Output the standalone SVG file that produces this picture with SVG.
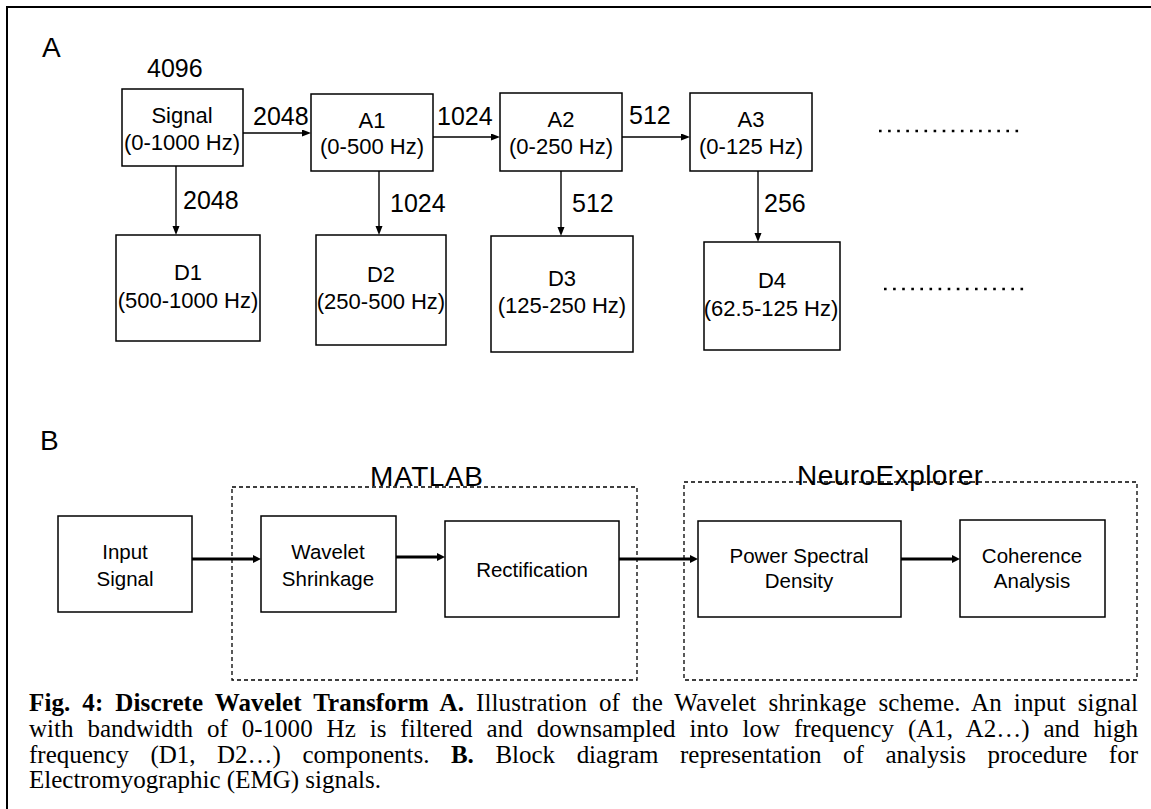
<svg xmlns="http://www.w3.org/2000/svg" width="1151" height="809" viewBox="0 0 1151 809">
<style>
  .box { fill: #fff; stroke: #000; stroke-width: 1.5; }
  .grp { fill: none; stroke: #000; stroke-width: 1.3; stroke-dasharray: 4 3; }
  .t { font-family: "Liberation Sans", Arial, sans-serif; fill: #000; }
  .ta { font-size: 22px; text-anchor: middle; }
  .tn { font-size: 25px; }
  .tb { font-size: 20.5px; text-anchor: middle; }
  .tg { font-size: 28px; }
  .cap { font-family: "Liberation Serif", "Times New Roman", serif; font-size: 25px; fill: #000; }
  .thin { stroke: #000; stroke-width: 1.4; fill: none; }
  .thick { stroke: #000; stroke-width: 3; fill: none; }
  .dots { stroke: #000; stroke-width: 2.6; stroke-dasharray: 2.6 6.5; fill: none; }
</style>
<defs>
  <marker id="ah" markerUnits="userSpaceOnUse" markerWidth="10" markerHeight="8" refX="0" refY="3.5" orient="auto">
    <path d="M0,0 L9,3.5 L0,7 z" fill="#000"/>
  </marker>
  <marker id="ahb" markerUnits="userSpaceOnUse" markerWidth="10" markerHeight="10" refX="0" refY="4" orient="auto">
    <path d="M0,0 L8,4 L0,8 z" fill="#000"/>
  </marker>
</defs>
<rect width="1151" height="809" fill="#fff"/>
<g id="frame">
  <line x1="6" y1="7" x2="1151" y2="7" stroke="#000" stroke-width="2"/>
  <line x1="7" y1="6" x2="7" y2="809" stroke="#000" stroke-width="2"/>
</g>
<text class="t" x="42" y="57" font-size="28">A</text>
<text class="t" x="40" y="450" font-size="28">B</text>
<text class="t tn" x="147" y="77">4096</text>

<g id="signal"><rect class="box" x="122" y="89" width="121" height="77"/>
  <text class="t ta" x="182" y="123">Signal</text><text class="t ta" x="182" y="150">(0-1000 Hz)</text></g>
<g id="a1"><rect class="box" x="311" y="94" width="122" height="77"/>
  <text class="t ta" x="372" y="128">A1</text><text class="t ta" x="372" y="154">(0-500 Hz)</text></g>
<g id="a2"><rect class="box" x="500" y="93" width="122" height="78"/>
  <text class="t ta" x="561" y="127">A2</text><text class="t ta" x="561" y="154">(0-250 Hz)</text></g>
<g id="a3"><rect class="box" x="690" y="93" width="122" height="78"/>
  <text class="t ta" x="751" y="127">A3</text><text class="t ta" x="751" y="154">(0-125 Hz)</text></g>
<g id="d1"><rect class="box" x="116" y="235" width="144" height="106"/>
  <text class="t ta" x="188" y="280">D1</text><text class="t ta" x="188" y="308">(500-1000 Hz)</text></g>
<g id="d2"><rect class="box" x="316" y="235" width="130" height="110"/>
  <text class="t ta" x="381" y="282">D2</text><text class="t ta" x="381" y="309">(250-500 Hz)</text></g>
<g id="d3"><rect class="box" x="491" y="236" width="142" height="116"/>
  <text class="t ta" x="562" y="286">D3</text><text class="t ta" x="562" y="313">(125-250 Hz)</text></g>
<g id="d4"><rect class="box" x="704" y="242" width="136" height="108"/>
  <text class="t ta" x="772" y="288">D4</text><text class="t ta" x="771" y="316">(62.5-125 Hz)</text></g>

<g id="more">
  <line class="dots" x1="879" y1="131" x2="1020" y2="131"/>
  <line class="dots" x1="884" y1="289" x2="1025" y2="289"/>
</g>

<g id="matlab"><rect class="grp" x="232" y="487" width="405" height="193"/>
  <text class="t tg" x="370" y="486" textLength="113">MATLAB</text></g>
<g id="neuroexplorer"><rect class="grp" x="684" y="482" width="453" height="198"/>
  <text class="t tg" x="797" y="485" textLength="186">NeuroExplorer</text></g>

<g id="input"><rect class="box" x="58" y="516" width="134" height="96"/>
  <text class="t tb" x="125" y="559">Input</text><text class="t tb" x="125" y="586">Signal</text></g>
<g id="wavelet"><rect class="box" x="261" y="516" width="135" height="96"/>
  <text class="t tb" x="328" y="559">Wavelet</text><text class="t tb" x="328" y="586">Shrinkage</text></g>
<g id="rect"><rect class="box" x="445" y="521" width="174" height="96"/>
  <text class="t tb" x="532" y="577">Rectification</text></g>
<g id="psd"><rect class="box" x="698" y="521" width="203" height="96"/>
  <text class="t tb" x="799" y="563">Power Spectral</text><text class="t tb" x="799" y="588">Density</text></g>
<g id="coh"><rect class="box" x="960" y="520" width="145" height="97"/>
  <text class="t tb" x="1032" y="563">Coherence</text><text class="t tb" x="1032" y="588">Analysis</text></g>

<g id="connectors">
  <line class="thin" x1="243" y1="133" x2="302" y2="133" marker-end="url(#ah)"/>
  <line class="thin" x1="433" y1="137" x2="491" y2="137" marker-end="url(#ah)"/>
  <line class="thin" x1="622" y1="137" x2="681" y2="137" marker-end="url(#ah)"/>
  <line class="thin" x1="176" y1="166" x2="176" y2="226" marker-end="url(#ah)"/>
  <line class="thin" x1="379" y1="171" x2="379" y2="226" marker-end="url(#ah)"/>
  <line class="thin" x1="561" y1="171" x2="561" y2="227" marker-end="url(#ah)"/>
  <line class="thin" x1="758" y1="171" x2="758" y2="233" marker-end="url(#ah)"/>
  <line class="thick" x1="192" y1="559" x2="253" y2="559" marker-end="url(#ahb)"/>
  <line class="thick" x1="396" y1="557" x2="437" y2="557" marker-end="url(#ahb)"/>
  <line class="thick" x1="619" y1="559" x2="690" y2="559" marker-end="url(#ahb)"/>
  <line class="thick" x1="901" y1="559" x2="952" y2="559" marker-end="url(#ahb)"/>
  <text class="t tn" x="253" y="125">2048</text>
  <text class="t tn" x="437" y="125">1024</text>
  <text class="t tn" x="629" y="124">512</text>
  <text class="t tn" x="183" y="209">2048</text>
  <text class="t tn" x="390" y="212">1024</text>
  <text class="t tn" x="572" y="212">512</text>
  <text class="t tn" x="764" y="212">256</text>
</g>

<g id="caption">
  <text class="cap" x="29" y="711" word-spacing="5.6" textLength="1109" lengthAdjust="spacing"><tspan font-weight="bold">Fig. 4: Discrete Wavelet Transform A.</tspan> Illustration of the Wavelet shrinkage scheme. An input signal</text>
  <text class="cap" x="29" y="737" word-spacing="7.7" textLength="1109" lengthAdjust="spacing">with bandwidth of 0-1000 Hz is filtered and downsampled into low frequency (A1, A2…) and high</text>
  <text class="cap" x="29" y="762.5" word-spacing="15.3" textLength="1109" lengthAdjust="spacing">frequency (D1, D2…) components. <tspan font-weight="bold">B.</tspan> Block diagram representation of analysis procedure for</text>
  <text class="cap" x="29" y="788">Electromyographic (EMG) signals.</text>
</g>
</svg>
